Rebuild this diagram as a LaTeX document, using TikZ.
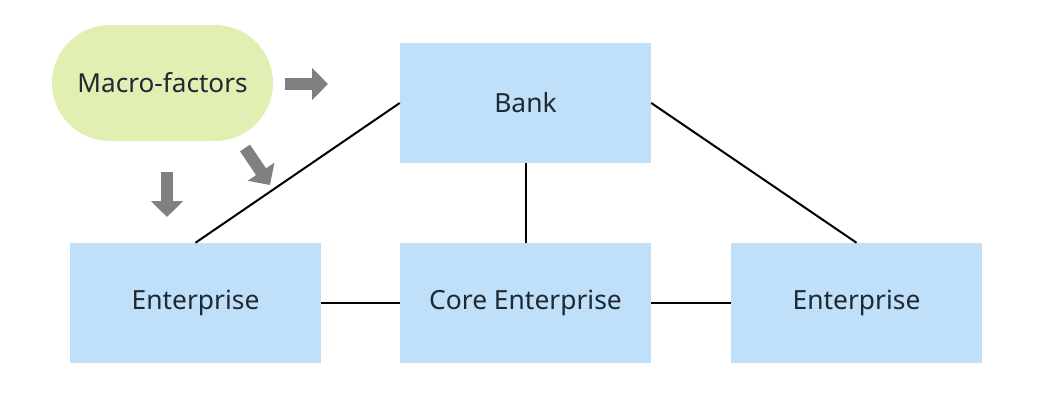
\documentclass[tikz,border=0pt]{standalone}
\usepackage{fontspec}
\setmainfont{Noto Sans}
\usetikzlibrary{arrows.meta}
\definecolor{boxblue}{HTML}{BFE0F8}
\definecolor{macrogreen}{HTML}{E2EFB2}
\definecolor{arrowgray}{HTML}{808080}
\definecolor{inktext}{HTML}{1E2933}
\begin{document}
\begin{tikzpicture}[x=0.75pt,y=-0.75pt,
  box/.style={fill=boxblue, minimum width=188.25pt, minimum height=90pt,
    inner sep=0pt, text=inktext, font=\fontsize{19.8}{23}\selectfont},
  factor/.style={fill=macrogreen, minimum width=165.75pt, minimum height=87pt,
    rounded corners=43.5pt, inner sep=0pt, text=inktext,
    font=\fontsize{19.6}{23}\selectfont},
  link/.style={line width=1.5pt, black},
  influence/.style={line width=9pt, arrowgray,
    -{Triangle[length=12pt,width=23.5pt]}}]
  % canvas
  \useasboundingbox (0,0) rectangle (1059,414);
  \fill[white] (0,0) rectangle (1059,414);

  % nodes
  \node[factor] (macro) at (162.5,83) {Macro-factors};
  \node[box] (bank) at (525.5,103) {Bank};
  \node[box] (entL) at (195.5,303) {Enterprise};
  \node[box] (core) at (525.5,303) {Core Enterprise};
  \node[box] (entR) at (856.5,303) {Enterprise};

  % relations
  \draw[link] (bank.west) -- (entL.north);
  \draw[link] (bank.east) -- (entR.north);
  \draw[link] (bank.south) -- (core.north);
  \draw[link] (entL.east) -- (core.west);
  \draw[link] (core.east) -- (entR.west);

  % influence arrows from the macro-factors
  \coordinate (rA) at (285,84);   \coordinate (rB) at (328,84);
  \coordinate (dA) at (167,172);  \coordinate (dB) at (167,217);
  \coordinate (gA) at (245,148);  \coordinate (gB) at (270,185);
  \draw[influence] (rA) -- (rB);
  \draw[influence] (dA) -- (dB);
  \draw[influence] (gA) -- (gB);
\end{tikzpicture}
\end{document}
